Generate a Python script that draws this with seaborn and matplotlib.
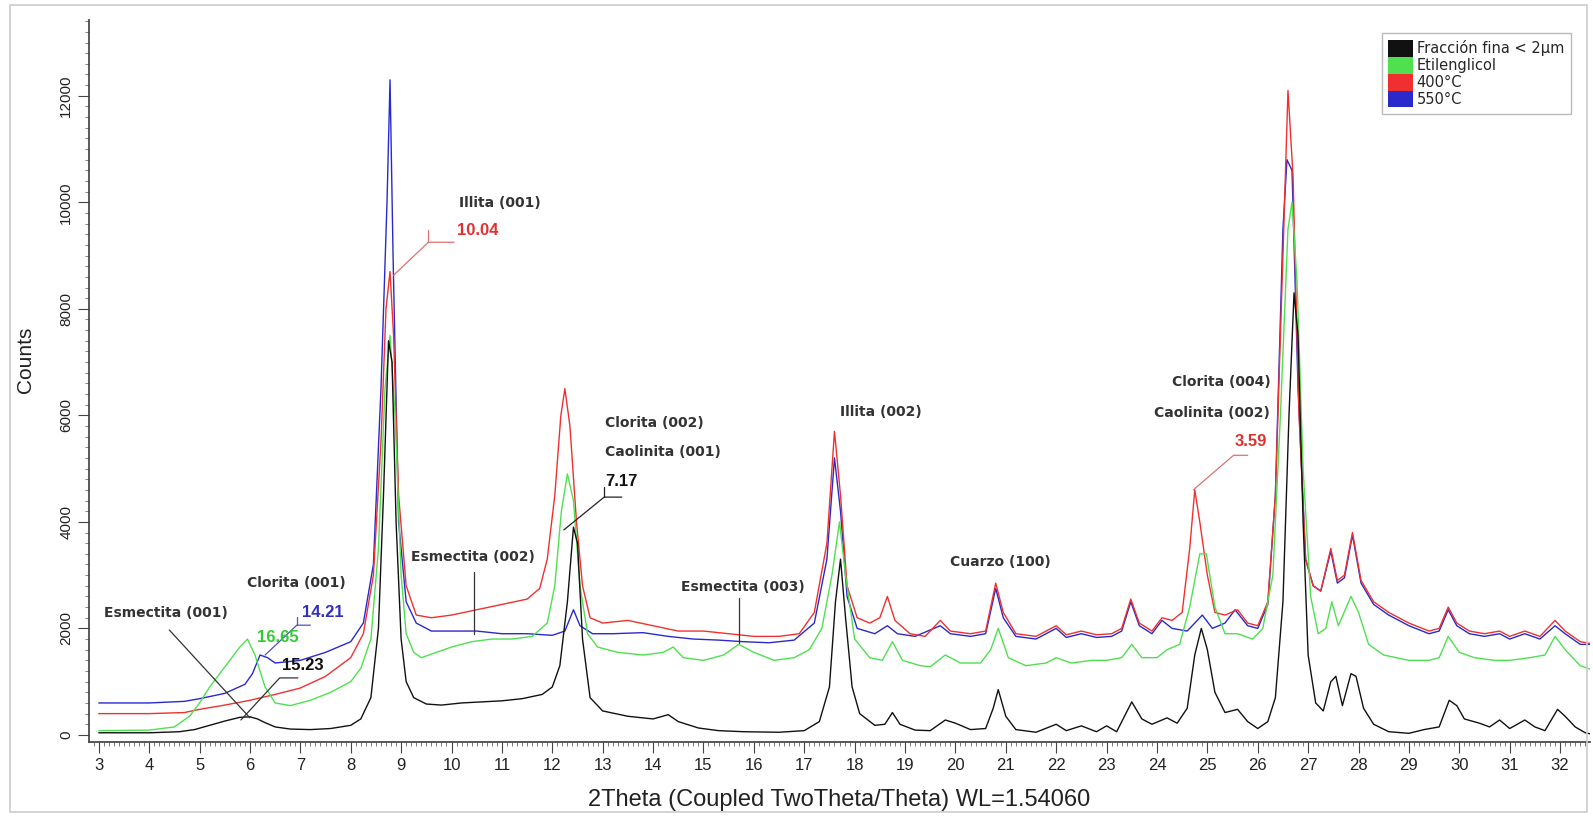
import matplotlib
matplotlib.use("Agg")
import matplotlib.pyplot as plt
import seaborn as sns
from matplotlib.patches import Patch, Rectangle
from matplotlib.ticker import MultipleLocator

# ---- data (2theta, counts) ----
black_x = [3.0, 4.0, 4.6, 4.9, 5.2, 5.5, 5.8, 6.0, 6.15, 6.3, 6.5, 6.8, 7.2, 7.6, 8.0, 8.2, 8.4, 8.55, 8.65,
           8.75, 8.82, 8.9, 9.0, 9.1, 9.25, 9.5, 9.8, 10.2, 10.6, 11.0, 11.4, 11.8, 12.0, 12.15, 12.3, 12.42,
           12.5, 12.6, 12.75, 13.0, 13.5, 14.0, 14.3, 14.5, 14.9, 15.3, 15.8, 16.5, 17.0, 17.3, 17.5, 17.62,
           17.72, 17.82, 17.95, 18.1, 18.4, 18.6, 18.75, 18.9, 19.2, 19.5, 19.8, 20.0, 20.3, 20.6, 20.75,
           20.85, 21.0, 21.2, 21.6, 22.0, 22.2, 22.5, 22.8, 23.0, 23.2, 23.5, 23.7, 23.9, 24.2, 24.4, 24.6,
           24.75, 24.88, 25.0, 25.15, 25.35, 25.6, 25.8, 26.0, 26.2, 26.35, 26.5, 26.62, 26.72, 26.8, 26.9,
           27.0, 27.15, 27.3, 27.45, 27.55, 27.68, 27.85, 27.95, 28.1, 28.3, 28.6, 29.0, 29.3, 29.6, 29.8,
           29.95, 30.1, 30.4, 30.6, 30.8, 31.0, 31.3, 31.5, 31.7, 31.95, 32.1, 32.3, 32.5, 32.7]
black_y = [40, 40, 60, 100, 180, 260, 330, 340, 300, 230, 150, 110, 100, 120, 180, 300, 700, 2000, 4500,
           7400, 7000, 4000, 1800, 1000, 700, 580, 560, 600, 620, 640, 680, 760, 900, 1300, 2500, 3900,
           3600, 1800, 700, 450, 350, 300, 380, 250, 130, 80, 60, 50, 80, 250, 900, 2500,
           3300, 2200, 900, 400, 180, 200, 420, 200, 90, 80, 280, 220, 100, 120, 500,
           850, 350, 100, 50, 200, 80, 170, 60, 170, 60, 620, 300, 200, 320, 220, 500,
           1500, 2000, 1600, 800, 420, 480, 250, 120, 250, 700, 2500, 6000, 8300, 7500, 4000,
           1500, 600, 450, 1000, 1100, 550, 1150, 1100, 500, 200, 60, 30, 100, 150, 650,
           550, 300, 220, 150, 280, 120, 280, 150, 80, 480, 350, 150, 40, 0]

green_x = [3.0, 4.0, 4.5, 4.8, 5.0, 5.2, 5.4, 5.6, 5.8, 5.95, 6.1, 6.3, 6.5, 6.8, 7.2, 7.6, 8.0, 8.2, 8.4,
           8.55, 8.68, 8.78, 8.88, 9.0, 9.1, 9.25, 9.4, 9.7, 10.0, 10.4, 10.8, 11.2, 11.6, 11.9, 12.05,
           12.18, 12.3, 12.42, 12.55, 12.7, 12.9, 13.3, 13.8, 14.2, 14.4, 14.6, 15.0, 15.4, 15.7, 16.0,
           16.4, 16.8, 17.1, 17.35, 17.55, 17.7, 17.82, 18.0, 18.3, 18.55, 18.75, 18.95, 19.3, 19.5, 19.8,
           20.1, 20.5, 20.7, 20.85, 21.05, 21.4, 21.8, 22.0, 22.3, 22.7, 23.0, 23.3, 23.5, 23.7, 24.0,
           24.2, 24.45, 24.65, 24.85, 24.98, 25.15, 25.35, 25.6, 25.9, 26.1, 26.3, 26.45, 26.6, 26.68,
           26.78, 26.9, 27.05, 27.2, 27.35, 27.47, 27.6, 27.85, 28.0, 28.2, 28.5, 29.0, 29.4, 29.6, 29.78,
           30.0, 30.3, 30.7, 31.0, 31.4, 31.7, 31.9, 32.1, 32.4, 32.7]
green_y = [80, 90, 150, 350, 600, 900, 1150, 1400, 1650, 1800, 1500, 900, 600, 550, 650, 800, 1000, 1250, 1800,
           3500, 6500, 7500, 6000, 3000, 1900, 1550, 1450, 1550, 1650, 1750, 1800, 1800, 1850, 2100, 2800,
           4200, 4900, 4400, 2800, 1900, 1650, 1550, 1500, 1550, 1650, 1450, 1400, 1500, 1700, 1550,
           1400, 1450, 1600, 2000, 3000, 4000, 3000, 1800, 1450, 1400, 1750, 1400, 1300, 1280, 1500,
           1350, 1350, 1600, 2000, 1450, 1300, 1350, 1450, 1350, 1400, 1400, 1450, 1700, 1450, 1450,
           1600, 1700, 2400, 3400, 3400, 2400, 1900, 1900, 1800, 2000, 3000, 6000, 9500, 10000,
           8500, 5000, 2600, 1900, 2000, 2500, 2050, 2600, 2300, 1700, 1500, 1400, 1400, 1450, 1850,
           1550, 1450, 1400, 1400, 1450, 1500, 1850, 1600, 1300, 1200]

red_x = [3.0, 4.0, 4.7, 5.0, 5.5, 6.0, 6.5, 7.0, 7.5, 8.0, 8.25, 8.45, 8.6, 8.7, 8.78, 8.85, 8.95, 9.1,
         9.3, 9.6, 10.0, 10.5, 11.0, 11.5, 11.75, 11.9, 12.05, 12.17, 12.25, 12.35, 12.48, 12.6, 12.75,
         13.0, 13.5, 14.0, 14.5, 15.0, 15.5, 16.0, 16.5, 16.9, 17.2, 17.45, 17.6, 17.72, 17.85, 18.05,
         18.3, 18.5, 18.65, 18.8, 19.1, 19.4, 19.7, 19.9, 20.3, 20.6, 20.8, 20.95, 21.2, 21.6, 22.0,
         22.2, 22.5, 22.8, 23.1, 23.3, 23.48, 23.65, 23.9, 24.1, 24.3, 24.5, 24.65, 24.75, 24.85, 25.0,
         25.15, 25.35, 25.6, 25.8, 26.0, 26.2, 26.35, 26.5, 26.6, 26.7, 26.82, 26.95, 27.1, 27.25,
         27.45, 27.58, 27.72, 27.88, 28.05, 28.3, 28.6, 29.0, 29.4, 29.6, 29.78, 29.95, 30.2, 30.5,
         30.8, 31.0, 31.3, 31.6, 31.9, 32.1, 32.4, 32.7]
red_y = [400, 400, 420, 480, 560, 650, 760, 880, 1100, 1450, 1900, 3000, 5500, 8000, 8700, 7500, 4500, 2800,
         2250, 2200, 2250, 2350, 2450, 2550, 2750, 3300, 4500, 6000, 6500, 5800, 4000, 2800, 2200,
         2100, 2150, 2050, 1950, 1950, 1900, 1850, 1850, 1900, 2300, 3600, 5700, 4500, 2800, 2200,
         2100, 2200, 2600, 2150, 1900, 1850, 2150, 1950, 1900, 1950, 2850, 2300, 1900, 1850, 2050,
         1880, 1950, 1880, 1900, 2000, 2550, 2100, 1950, 2200, 2150, 2300, 3500, 4600, 4000, 3000,
         2300, 2250, 2350, 2100, 2050, 2500, 4500, 9000, 12100, 10500, 6000, 3300, 2800, 2700,
         3500, 2900, 3000, 3800, 2900, 2500, 2300, 2100, 1950, 2000, 2400, 2100, 1950, 1900,
         1950, 1850, 1950, 1850, 2150, 1950, 1750, 1700]

blue_x = [3.0, 4.0, 4.7, 5.0, 5.5, 5.9, 6.05, 6.2, 6.35, 6.5, 7.0, 7.5, 8.0, 8.25, 8.45, 8.6, 8.72, 8.78,
          8.84, 8.95, 9.1, 9.3, 9.6, 10.0, 10.5, 11.0, 11.5, 12.0, 12.25, 12.42, 12.55, 12.8, 13.2, 13.8,
          14.3, 14.8, 15.3, 15.8, 16.3, 16.8, 17.2, 17.45, 17.6, 17.72, 17.85, 18.05, 18.4, 18.65, 18.85,
          19.2, 19.7, 19.9, 20.3, 20.6, 20.8, 20.95, 21.2, 21.6, 22.0, 22.2, 22.5, 22.8, 23.1, 23.3,
          23.48, 23.65, 23.9, 24.1, 24.3, 24.6, 24.9, 25.1, 25.35, 25.55, 25.8, 26.0, 26.2, 26.35, 26.5,
          26.58, 26.68, 26.8, 26.95, 27.1, 27.25, 27.45, 27.58, 27.72, 27.88, 28.05, 28.3, 28.6, 29.0,
          29.4, 29.6, 29.78, 29.95, 30.2, 30.5, 30.8, 31.0, 31.3, 31.6, 31.9, 32.1, 32.4, 32.7]
blue_y = [600, 600, 630, 680, 780, 950, 1150, 1500, 1450, 1350, 1400, 1550, 1750, 2100, 3200, 6500, 10000, 12300,
          9000, 4000, 2500, 2100, 1950, 1950, 1950, 1900, 1900, 1870, 1950, 2350, 2050, 1900, 1900, 1920,
          1850, 1800, 1780, 1750, 1730, 1780, 2100, 3300, 5200, 4200, 2600, 2000, 1900, 2050, 1900,
          1850, 2050, 1900, 1850, 1900, 2750, 2200, 1850, 1800, 2000, 1830, 1900, 1830, 1850, 1950,
          2500, 2050, 1900, 2150, 2000, 1950, 2250, 2000, 2100, 2350, 2050, 2000, 2450, 4500, 9500,
          10800, 10600, 6500, 3300, 2800, 2700, 3450, 2850, 2950, 3750, 2850, 2450, 2250, 2050,
          1900, 1950, 2350, 2050, 1900, 1850, 1900, 1800, 1900, 1800, 2050, 1900, 1700, 1700]

labels = ["Fracción fina < 2µm", "Etilenglicol", "400°C", "550°C"]
colors = ["#111111", "#4fe04f", "#f03030", "#2a2acc"]

sns.set_theme(style="white")
plt.rcParams['font.family'] = ['Liberation Sans Narrow', 'Liberation Sans', 'DejaVu Sans']

fig = plt.figure(figsize=(15.93, 8.17), dpi=100)
ax = fig.add_axes([0.056, 0.092, 0.942, 0.883])

# draw order: blue, red, green, black on top
for xs, ys, c in [(blue_x, blue_y, colors[3]), (red_x, red_y, colors[2]),
                  (green_x, green_y, colors[1]), (black_x, black_y, colors[0])]:
    sns.lineplot(x=xs, y=ys, color=c, lw=1.0, ax=ax, sort=False, estimator=None)

ax.set_xlim(2.81, 32.59)
ax.set_ylim(-130, 13415)
for s in ["top", "right"]:
    ax.spines[s].set_visible(False)
ax.spines["left"].set_color("#444444")
ax.spines["bottom"].set_color("#444444")

ax.xaxis.set_major_locator(MultipleLocator(1))
ax.xaxis.set_minor_locator(MultipleLocator(0.1))
ax.yaxis.set_major_locator(MultipleLocator(2000))
ax.yaxis.set_minor_locator(MultipleLocator(200))
ax.tick_params(axis="both", which="major", direction="out", length=8, width=0.8,
               color="#444444", labelsize=12, bottom=True, left=True, labelcolor="#222222")
ax.tick_params(axis="y", which="major", labelsize=11)
ax.tick_params(axis="both", which="minor", direction="out", length=3, width=0.6,
               color="#666666", bottom=True, left=True)
ax.set_xticks(range(3, 33))
ax.set_yticks(range(0, 13000, 2000))
for t in ax.get_yticklabels():
    t.set_rotation(90)
    t.set_va("center")

ax.set_xlabel("2Theta (Coupled TwoTheta/Theta) WL=1.54060", fontsize=17, labelpad=12, color="#222222")
ax.set_ylabel("Counts", fontsize=15, color="#222222")
ax.yaxis.set_label_coords(-0.036, 0.53)

# ---- phase annotations ----
lab = dict(fontsize=10, fontweight="bold", color="#333333", va="center",
           family=["DejaVu Sans"])
num = dict(fontsize=12, fontweight="bold", va="center", family=["Liberation Sans", "DejaVu Sans"])
seg = dict(lw=0.9)

ax.text(10.15, 9980, "Illita (001)", **lab)
ax.text(10.1, 9475, "10.04", color="#e03030", **num)
ax.plot([8.85, 9.54, 10.05], [8630, 9250, 9250], color="#e07070", **seg)
ax.plot([9.54, 9.54], [9250, 9475], color="#e07070", **seg)

ax.text(13.05, 5850, "Clorita (002)", **lab)
ax.text(13.05, 5320, "Caolinita (001)", **lab)
ax.text(13.05, 4750, "7.17", color="#111111", **num)
ax.plot([12.23, 13.03, 13.38], [3850, 4465, 4465], color="#222222", **seg)
ax.plot([13.03, 13.03], [4465, 4650], color="#222222", **seg)

ax.text(9.2, 3340, "Esmectita (002)", **lab)
ax.plot([10.45, 10.45], [3050, 1900], color="#333333", **seg)

ax.text(14.55, 2780, "Esmectita (003)", **lab)
ax.plot([15.7, 15.7], [2580, 1720], color="#333333", **seg)

ax.text(17.7, 6070, "Illita (002)", **lab)
ax.text(19.9, 3250, "Cuarzo (100)", **lab)

ax.text(24.3, 6620, "Clorita (004)", **lab)
ax.text(23.95, 6040, "Caolinita (002)", **lab)
ax.text(25.55, 5500, "3.59", color="#e03030", **num)
ax.plot([24.72, 25.52, 25.8], [4600, 5250, 5250], color="#e07070", **seg)

ax.text(5.95, 2850, "Clorita (001)", **lab)
ax.text(3.1, 2290, "Esmectita (001)", **lab)
ax.plot([4.4, 6.0], [1970, 320], color="#333333", **seg)
ax.text(7.03, 2290, "14.21", color="#3030c0", **num)
ax.plot([6.3, 6.93, 7.2], [1500, 2060, 2060], color="#5050c0", **seg)
ax.plot([6.93, 6.93], [2060, 2210], color="#5050c0", **seg)
ax.text(6.14, 1820, "16.65", color="#33cc33", **num)
ax.text(6.63, 1310, "15.23", color="#111111", **num)
ax.plot([5.82, 6.59, 6.95], [280, 1070, 1070], color="#333333", **seg)

# ---- legend ----
handles = [Patch(facecolor=c, edgecolor="none") for c in colors]
leg = fig.legend(handles, labels, loc="upper right", bbox_to_anchor=(0.9906, 0.968),
                 handlelength=1.7, handleheight=1.4, handletextpad=0.25,
                 labelspacing=0.0, borderpad=0.45, frameon=True, fancybox=False,
                 prop={"family": ["DejaVu Sans"], "size": 10.5})
leg.get_frame().set_edgecolor("#aaaaaa")
leg.get_frame().set_linewidth(1.0)

# light border around the whole picture
fig.patches.append(Rectangle((0.006, 0.006), 0.99, 0.988, transform=fig.transFigure,
                             fill=False, edgecolor="#cccccc", lw=1.2))

fig.savefig("out.png", dpi=100)
